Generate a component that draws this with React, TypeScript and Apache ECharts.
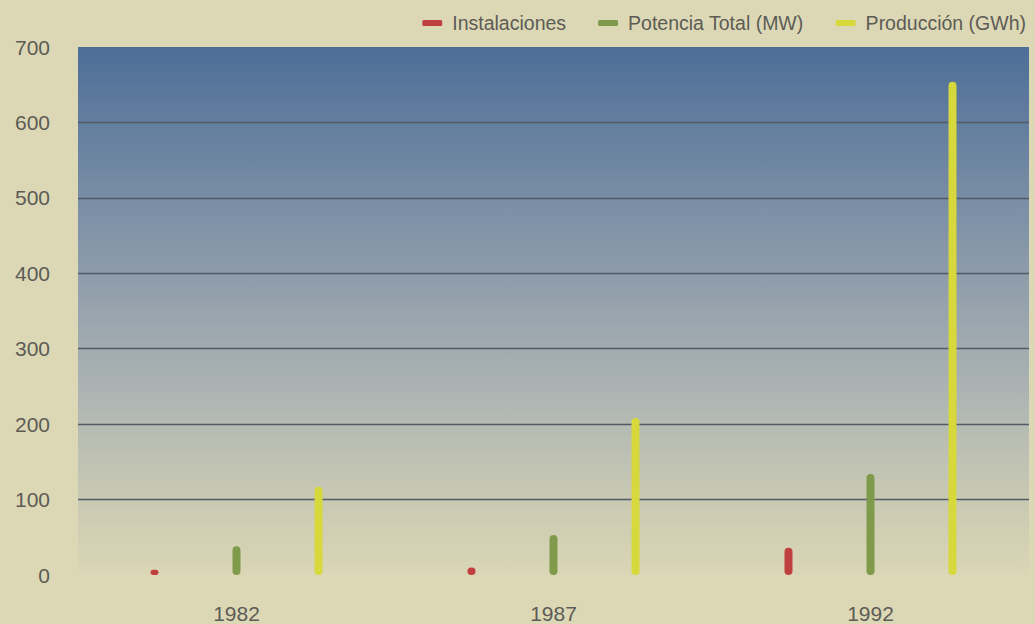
import React, { useEffect, useRef } from "react";
import * as echarts from "echarts";

const categories = ["1982", "1987", "1992"];
const instalaciones = [7, 10, 36];
const potencia = [38, 53, 134];
const produccion = [117, 208, 654];
const yTicks = [0, 100, 200, 300, 400, 500, 600, 700];
const seriesNames = ["Instalaciones", "Potencia Total (MW)", "Producción (GWh)"];

export default function App() {
  const ref = useRef<HTMLDivElement>(null);
  useEffect(() => {
    document.body.style.margin = "0";
    const chart = echarts.init(ref.current!, null, { renderer: "svg" });
    const font = "'Liberation Sans', Arial, sans-serif";
    const gridColors = yTicks.map((v, i) =>
      i === 0 || i === yTicks.length - 1 ? "rgba(0,0,0,0)" : "#525a66"
    );
    const bar = (name: string, data: number[], color: string) => ({
      type: "bar",
      name,
      data,
      barWidth: 8,
      barGap: "925%",
      itemStyle: { color, borderRadius: 4 },
    });
    chart.setOption({
      animation: false,
      backgroundColor: "#dcd8b6",
      textStyle: { fontFamily: font },
      legend: {
        top: 8,
        right: 4,
        itemWidth: 20,
        itemHeight: 6,
        itemGap: 32,
        icon: "roundRect",
        textStyle: {
          fontSize: 19.5,
          color: "#5c5c55",
          fontFamily: font,
          padding: [0, 0, 0, 5],
        },
        data: seriesNames,
      },
      grid: {
        left: 78,
        right: 6,
        top: 47,
        bottom: 49,
        show: true,
        borderWidth: 0,
        backgroundColor: new echarts.graphic.LinearGradient(0, 0, 0, 1, [
          { offset: 0, color: "#4d6e98" },
          { offset: 0.38, color: "#8797a9" },
          { offset: 0.63, color: "#a9b1b2" },
          { offset: 0.76, color: "#bcc0b3" },
          { offset: 0.92, color: "#d1cfb3" },
          { offset: 1, color: "#dad6b6" },
        ]),
      },
      xAxis: {
        type: "category",
        data: categories,
        axisLine: { show: false },
        axisTick: { show: false },
        axisLabel: { fontSize: 21, color: "#5c5c55", margin: 28, fontFamily: font },
      },
      yAxis: {
        type: "value",
        min: 0,
        max: 700,
        interval: 100,
        axisLine: { show: false },
        axisTick: { show: false },
        axisLabel: { fontSize: 21, color: "#5c5c55", margin: 28, fontFamily: font },
        splitLine: { show: true, lineStyle: { color: gridColors, width: 1.3 } },
      },
      series: [
        bar(seriesNames[0], instalaciones, "#c0403f"),
        bar(seriesNames[1], potencia, "#7f9a4a"),
        bar(seriesNames[2], produccion, "#d6d83c"),
      ],
    });
    return () => chart.dispose();
  }, []);
  return (
    <div
      ref={ref}
      style={{ position: "absolute", left: 0, top: 0, width: 1035, height: 624 }}
    />
  );
}
